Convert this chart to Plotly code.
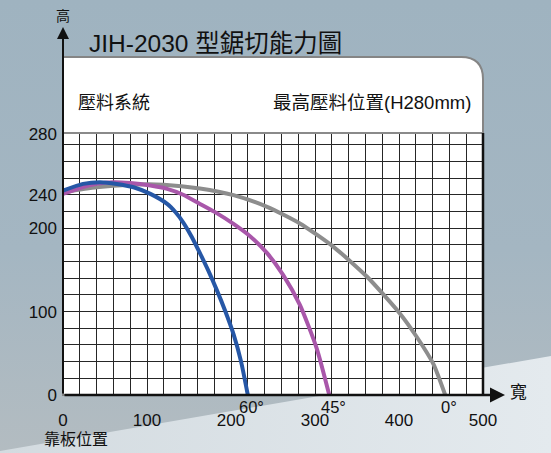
import base64
import plotly.graph_objects as go

# ---------------- data ----------------
blue_x = [0, 24, 44, 64, 84, 104, 124, 134, 143, 153, 163, 173, 183, 193, 203, 212, 220]
blue_y = [245, 253, 255, 253, 249, 241, 229, 219, 207, 190, 170, 149, 126, 101, 73, 40, 0]

purple_x = [0, 20, 40, 60, 80, 104, 124, 143, 163, 183, 203, 223, 243, 262, 282, 302, 317]
purple_y = [241, 248, 253, 255, 254, 251, 247, 240, 229, 218, 205, 190, 170, 144, 108, 56, 0]

gray_x = [0, 40, 80, 120, 163, 203, 243, 282, 322, 362, 401, 421, 441, 455]
gray_y = [243, 249, 252, 252, 247.5, 239.5, 225.5, 205.6, 177.6, 141.7, 97.8, 69.8, 37, 0]

angle_labels = ["60°", "45°", "0°"]
angle_x = [220, 317, 455]

x_tick_vals = [0, 100, 200, 300, 400, 500]
x_tick_text = ["0", "100", "200", "300", "400", "500"]
y_tick_vals = [0, 100, 200, 240, 313]
y_tick_text = ["0", "100", "200", "240", "280"]

title_text = "JIH-2030 型鋸切能力圖"
left_caption = "壓料系統"
right_caption = "最高壓料位置(H280mm)"
y_axis_name = "高"
x_axis_name = "寬"
fence_label = "靠板位置"

# ---------------- layout geometry (pixels) ----------------
W, H = 551, 453
L, R, T, B = 63, 483, 133, 395
FONT = "Liberation Sans, Arial, Noto Sans CJK TC, sans-serif"


def pxx(p):
    return (p - L) / (R - L)


def pxy(p):
    return (B - p) / (B - T)


fig = go.Figure()

for xs, ys, col in [(gray_x, gray_y, "#8d8d8d"),
                    (purple_x, purple_y, "#a957aa"),
                    (blue_x, blue_y, "#2657a6")]:
    fig.add_trace(go.Scatter(x=xs, y=ys, mode="lines",
                             line=dict(color=col, width=4, shape="spline", smoothing=0.6),
                             hoverinfo="skip", showlegend=False))

# background gradient as svg image
svg = f"""<svg xmlns='http://www.w3.org/2000/svg' width='{W}' height='{H}'>
<defs>
<linearGradient id='g' x1='0' y1='0' x2='0' y2='1'>
<stop offset='0' stop-color='#9fb3c0'/><stop offset='0.55' stop-color='#a4b6c2'/><stop offset='1' stop-color='#b3bcc1'/>
</linearGradient>
<linearGradient id='h' x1='0' y1='0' x2='1' y2='0'>
<stop offset='0' stop-color='#d3dbe0'/><stop offset='1' stop-color='#e4eaee'/>
</linearGradient>
</defs>
<rect width='{W}' height='{H}' fill='url(#g)'/>
<polygon points='0,453 0,451 551,356 551,453' fill='url(#h)'/>
</svg>"""
src = "data:image/svg+xml;base64," + base64.b64encode(svg.encode()).decode()

fig.add_layout_image(dict(source=src, xref="paper", yref="paper",
                          x=pxx(0), y=pxy(0), sizex=W / (R - L), sizey=H / (B - T),
                          xanchor="left", yanchor="top", sizing="stretch", layer="below"))

# white panel with rounded top-right corner
r = 22
path = (f"M {pxx(L)},{pxy(B)} L {pxx(L)},{pxy(57)} L {pxx(R - r)},{pxy(57)} "
        f"Q {pxx(R)},{pxy(57)} {pxx(R)},{pxy(57 + r)} L {pxx(R)},{pxy(B)} Z")
fig.add_shape(type="path", path=path, xref="paper", yref="paper",
              fillcolor="white", line=dict(color="#858585", width=2), layer="below")
# top border of grid (gray) and right border (black)
fig.add_shape(type="line", xref="paper", yref="paper", x0=0, x1=1, y0=1, y1=1,
              line=dict(color="#8a8a8a", width=2))
fig.add_shape(type="line", xref="paper", yref="paper", x0=1, x1=1, y0=0, y1=1,
              line=dict(color="#111", width=2.5))

ann = []
# axis arrows
ann.append(dict(xref="paper", yref="paper", x=pxx(L), y=pxy(27), ax=0, ay=B - 27,
                showarrow=True, arrowhead=2, arrowsize=1.2, arrowwidth=2, arrowcolor="#111", text=""))
ann.append(dict(xref="paper", yref="paper", x=pxx(505), y=0, ax=-(505 - L), ay=0,
                showarrow=True, arrowhead=2, arrowsize=1.2, arrowwidth=2.5, arrowcolor="#111", text=""))

ann.append(dict(xref="paper", yref="paper", x=pxx(63), y=pxy(16), text=y_axis_name,
                showarrow=False, xanchor="center", yanchor="middle",
                font=dict(size=14, color="#111", family=FONT)))
ann.append(dict(xref="paper", yref="paper", x=pxx(518), y=pxy(392), text=x_axis_name,
                showarrow=False, xanchor="center", yanchor="middle",
                font=dict(size=17, color="#111", family=FONT)))
ann.append(dict(xref="paper", yref="paper", x=pxx(87), y=pxy(43), text=title_text,
                showarrow=False, xanchor="left", yanchor="middle",
                font=dict(size=24.5, color="#111", family=FONT)))
ann.append(dict(xref="paper", yref="paper", x=pxx(76), y=pxy(103), text=left_caption,
                showarrow=False, xanchor="left", yanchor="middle",
                font=dict(size=18, color="#111", family=FONT)))
ann.append(dict(xref="paper", yref="paper", x=pxx(473), y=pxy(103), text=right_caption,
                showarrow=False, xanchor="right", yanchor="middle",
                font=dict(size=18.5, color="#111", family=FONT)))
ann.append(dict(xref="paper", yref="paper", x=pxx(76), y=pxy(439), text=fence_label,
                showarrow=False, xanchor="center", yanchor="middle",
                font=dict(size=16, color="#111", family=FONT)))
for lab, xv in zip(angle_labels, angle_x):
    ann.append(dict(xref="x", yref="y", x=xv, y=0, text=lab, showarrow=False,
                    xanchor="center", yanchor="top", xshift=4, yshift=-1,
                    font=dict(size=16.5, color="#111", family=FONT)))

fig.update_layout(
    width=W, height=H,
    margin=dict(l=L, r=W - R, t=T, b=H - B, pad=0),
    paper_bgcolor="#a3b5c1",
    plot_bgcolor="rgba(0,0,0,0)",
    annotations=ann,
    showlegend=False,
    font=dict(family=FONT, size=16, color="#111"),
)
fig.update_xaxes(range=[0, 500], zeroline=False, showline=False, ticks="",
                 tickmode="array", tickvals=x_tick_vals, ticktext=x_tick_text,
                 ticklabelstandoff=13, tickfont=dict(size=17, color="#111", family=FONT),
                 showgrid=False, fixedrange=True,
                 minor=dict(tick0=0, dtick=20, showgrid=True, gridcolor="#262626", gridwidth=1))
fig.update_yaxes(range=[0, 314], zeroline=False, showline=False, ticks="",
                 tickmode="array", tickvals=y_tick_vals, ticktext=y_tick_text,
                 showgrid=False, ticklabelstandoff=5,
                 tickfont=dict(size=17, color="#111", family=FONT), fixedrange=True,
                 minor=dict(tick0=0, dtick=20, showgrid=True, gridcolor="#262626", gridwidth=1))

fig.write_html("out.html", post_script="document.body.style.margin='0';",
               config={"displayModeBar": False, "staticPlot": True})
